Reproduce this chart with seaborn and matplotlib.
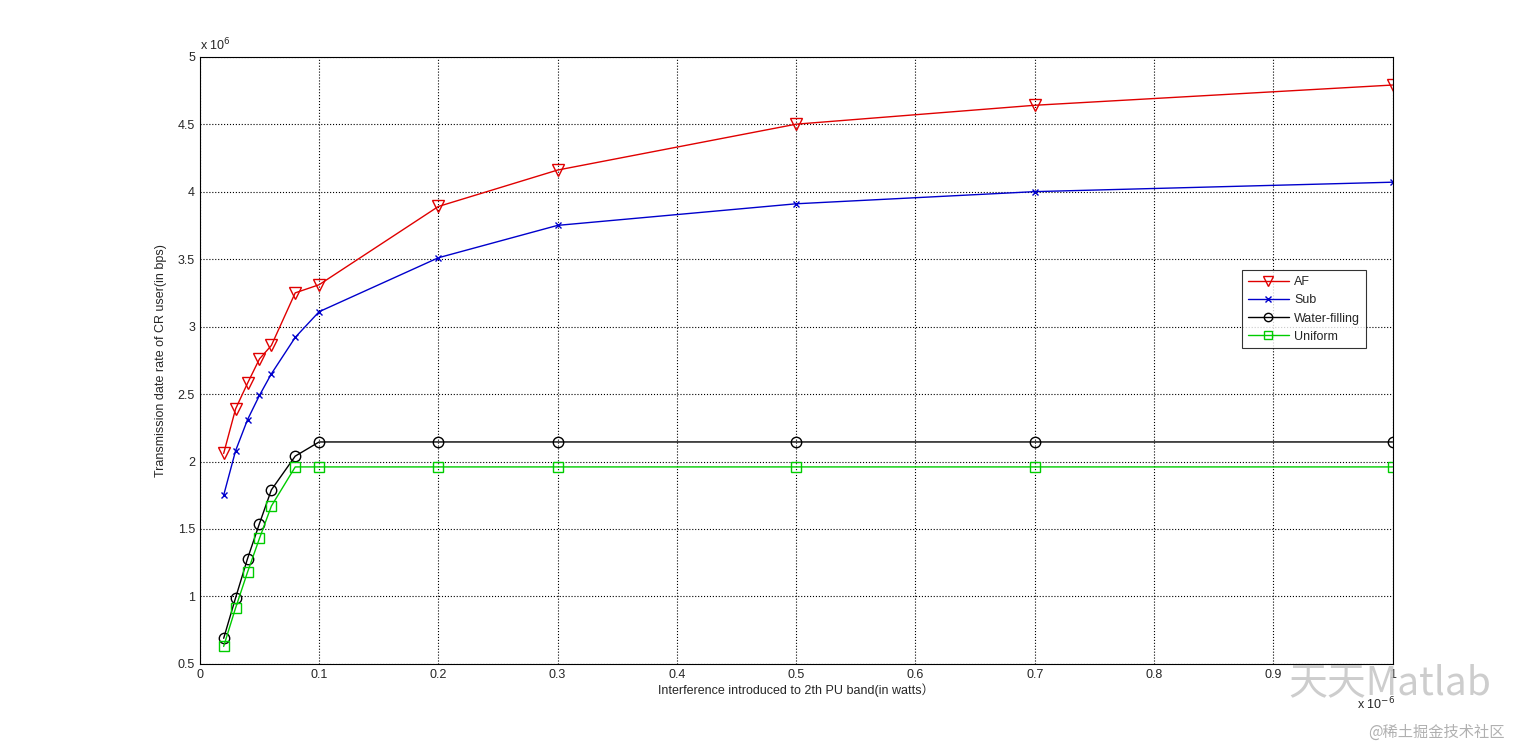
import numpy as np
import pandas as pd
import seaborn as sns
import matplotlib.pyplot as plt

# interference (x 1e-6 W) and rates (x 1e6 bps)
interference = [0.02, 0.03, 0.04, 0.05, 0.06, 0.08, 0.1, 0.2, 0.3, 0.5, 0.7, 1.0]
af = [2.06, 2.39, 2.58, 2.76, 2.86, 3.25, 3.31, 3.89, 4.16, 4.50, 4.64, 4.79]
sub = [1.75, 2.08, 2.31, 2.49, 2.65, 2.92, 3.11, 3.51, 3.75, 3.91, 4.00, 4.07]
water = [0.69, 0.99, 1.28, 1.54, 1.79, 2.04, 2.145, 2.145, 2.145, 2.145, 2.145, 2.145]
uniform = [0.63, 0.915, 1.18, 1.43, 1.67, 1.96, 1.96, 1.96, 1.96, 1.96, 1.96, 1.96]

series = {'AF': af, 'Sub': sub, 'Water-filling': water, 'Uniform': uniform}
df = pd.DataFrame({'x': interference * 4,
                   'rate': af + sub + water + uniform,
                   'method': np.repeat(list(series.keys()), len(interference))})

sns.set_style('white')
plt.rcParams['font.family'] = ['Liberation Sans', 'Noto Sans CJK SC', 'DejaVu Sans']

fig = plt.figure(figsize=(15.37, 7.46), dpi=100)
ax = fig.add_axes([0.130, 0.110, 0.776, 0.814])

styles = {'AF': ('#e00000', 'v', 9, 'none'),
          'Sub': ('#0000cc', 'x', 5, None),
          'Water-filling': ('black', 'o', 7.5, 'none'),
          'Uniform': ('#00cc00', 's', 7.5, 'none')}
for name, (c, m, ms, mfc) in styles.items():
    sub_df = df[df['method'] == name]
    kw = dict(markerfacecolor=mfc) if mfc else {}
    sns.lineplot(data=sub_df, x='x', y='rate', ax=ax, color=c, marker=m,
                 markersize=ms, markeredgecolor=c, markeredgewidth=1,
                 linewidth=1, label=name, **kw)

ax.set_xlim(0, 1)
ax.set_ylim(0.5, 5)
ax.set_xticks(np.arange(0, 1.01, 0.1))
ax.set_xticklabels(['0', '0.1', '0.2', '0.3', '0.4', '0.5', '0.6', '0.7', '0.8', '0.9', '1'])
ax.set_yticks(np.arange(0.5, 5.01, 0.5))
ax.set_yticklabels(['0.5', '1', '1.5', '2', '2.5', '3', '3.5', '4', '4.5', '5'])
ax.tick_params(labelsize=9, direction='in', length=4, color='black')
ax.grid(True, linestyle=':', color='black', linewidth=0.8)
for s in ax.spines.values():
    s.set_color('black')
    s.set_linewidth(0.8)

ax.set_xlabel('Interference introduced to 2th PU band(in watts\uff09', fontsize=9, labelpad=2)
ax.set_ylabel('Transmission date rate of CR user(in bps)', fontsize=9, labelpad=8)
ax.text(0.0, 1.005, 'x 10$^{6}$', transform=ax.transAxes, fontsize=9, va='bottom')
ax.text(0.97, -0.052, 'x 10$^{-6}$', transform=ax.transAxes, fontsize=9, va='top')

leg = ax.legend(loc='upper left', bbox_to_anchor=(0.874, 0.648), fontsize=9,
                frameon=True, fancybox=False, borderpad=0.45, labelspacing=0.5,
                handlelength=3.3, handletextpad=0.4, borderaxespad=0, markerscale=0.8)
leg.get_frame().set_edgecolor('black')
leg.get_frame().set_linewidth(0.8)

# watermark
fig.text(0.838, 0.070, '\u5929\u5929Matlab', fontsize=28, color='#c8c8c8',
         family=['Noto Sans CJK SC', 'DejaVu Sans'], alpha=0.9, zorder=0)
fig.text(0.890, 0.012, '@\u7a00\u571f\u6398\u91d1\u6280\u672f\u793e\u533a', fontsize=11,
         color='#b0b0b0', family=['Noto Sans CJK SC', 'DejaVu Sans'])

fig.savefig('out.png', dpi=100)
